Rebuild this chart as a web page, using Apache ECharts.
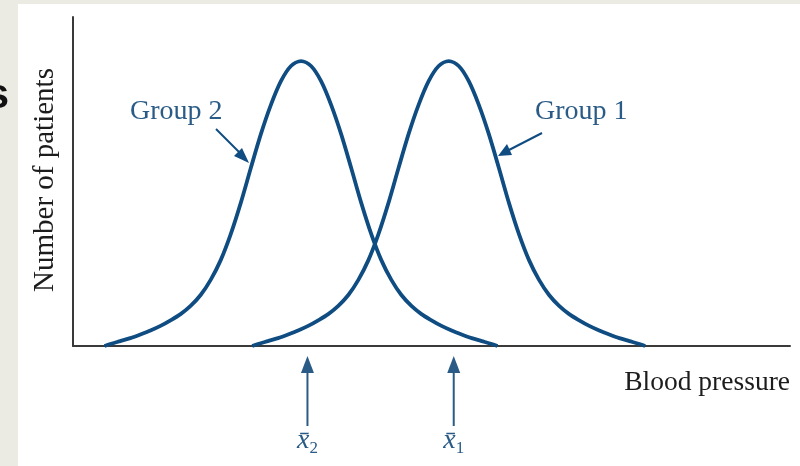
<!DOCTYPE html>
<html>
<head>
<meta charset="utf-8">
<script src="https://cdn.jsdelivr.net/npm/echarts@6/dist/echarts.min.js"></script>
<style>
  html, body { margin: 0; padding: 0; background: #ecebe3; }
  #paper { position: absolute; left: 18px; top: 4px; width: 782px; height: 462px; background: #fff; }
  #main { position: absolute; left: 0; top: 0; width: 800px; height: 466px; }
</style>
</head>
<body>
<div id="paper"></div>
<div id="main"></div>
<script>
// blood pressure (arbitrary units along the axis) and number of patients
const bpGroup2 = [4.4, 5.2, 6.6, 8.0, 9.4, 10.8, 12.2, 13.6, 15.0, 16.4, 17.8, 19.2, 20.6, 22.0,
  23.4, 24.8, 26.2, 27.6, 29.0, 30.4, 31.8, 33.2, 34.6, 36.0, 37.4, 38.8, 40.2, 41.6, 43.0, 44.4,
  45.8, 47.2, 48.6, 50.0, 51.4, 52.8, 54.2, 55.6, 57.0, 58.4, 59.2]
const patientsGroup2 = [0, 0.6, 1.5, 2.4, 3.5, 4.7, 6.1, 7.8, 9.7, 12.2, 15.5, 20.1, 26.1, 34.0,
  43.5, 54.1, 64.4, 73.3, 80.5, 85.1, 86.6, 85.1, 80.5, 73.3, 64.4, 54.1, 43.5, 34.0, 26.1, 20.1,
  15.5, 12.2, 9.7, 7.8, 6.1, 4.7, 3.5, 2.4, 1.5, 0.6, 0]
const bpGroup1 = [25.0, 25.8, 27.2, 28.6, 30.0, 31.4, 32.8, 34.2, 35.6, 37.0, 38.4, 39.8, 41.2, 42.6,
  44.0, 45.4, 46.8, 48.2, 49.6, 51.0, 52.4, 53.8, 55.2, 56.6, 58.0, 59.4, 60.8, 62.2, 63.6, 65.0,
  66.4, 67.8, 69.2, 70.6, 72.0, 73.4, 74.8, 76.2, 77.6, 79.0, 79.8]
const patientsGroup1 = [0, 0.6, 1.5, 2.4, 3.5, 4.7, 6.1, 7.8, 9.7, 12.2, 15.5, 20.1, 26.1, 34.0,
  43.5, 54.1, 64.4, 73.3, 80.5, 85.1, 86.6, 85.1, 80.5, 73.3, 64.4, 54.1, 43.5, 34.0, 26.1, 20.1,
  15.5, 12.2, 9.7, 7.8, 6.1, 4.7, 3.5, 2.4, 1.5, 0.6, 0]

const meanValues = [32.7, 53.1]
const meanSubs = ['2', '1']

const BLUE = '#0f4c81'
const TEXT_BLUE = '#2a5b86'
const SERIF = '"Liberation Serif", "DejaVu Serif", serif'

const chart = echarts.init(document.getElementById('main'))

const pairs = (xs, ys) => xs.map((x, i) => [x, ys[i]])

chart.setOption({
  animation: false,
  grid: { left: 73, right: 10, top: 17, bottom: 120 },
  xAxis: {
    type: 'value', min: 0, max: 100,
    axisLine: { show: true, lineStyle: { color: '#3a3a3a', width: 2 } },
    axisTick: { show: false }, axisLabel: { show: false }, splitLine: { show: false },
  },
  yAxis: {
    type: 'value', min: 0, max: 100,
    axisLine: { show: true, lineStyle: { color: '#3a3a3a', width: 2 } },
    axisTick: { show: false }, axisLabel: { show: false }, splitLine: { show: false },
  },
  series: [
    { name: 'Group 2', type: 'line', data: pairs(bpGroup2, patientsGroup2),
      smooth: 0.3, showSymbol: false,
      lineStyle: { color: BLUE, width: 3.8 } },
    { name: 'Group 1', type: 'line', data: pairs(bpGroup1, patientsGroup1),
      smooth: 0.3, showSymbol: false,
      lineStyle: { color: BLUE, width: 3.8 } },
  ],
})

// annotations: mean arrows below the axis, labels, axis titles
const graphics = []
meanValues.forEach((m, i) => {
  const [px, py] = chart.convertToPixel({ gridIndex: 0 }, [m, 0])
  graphics.push(
    { type: 'line', shape: { x1: px, y1: py + 24, x2: px, y2: py + 80 },
      style: { stroke: TEXT_BLUE, lineWidth: 2 } },
    { type: 'polygon', shape: { points: [[px, py + 10], [px - 6.5, py + 27], [px + 6.5, py + 27]] },
      style: { fill: TEXT_BLUE } },
    { type: 'text', x: px, y: py + 95,
      style: { text: '{x|x\u0304}{s|' + meanSubs[i] + '}', fill: TEXT_BLUE, align: 'center', verticalAlign: 'middle',
        rich: {
          x: { fontFamily: SERIF, fontStyle: 'italic', fontSize: 28, fill: TEXT_BLUE },
          s: { fontFamily: SERIF, fontSize: 17, fill: TEXT_BLUE, padding: [16, 0, 0, 0] },
        } } }
  )
})

graphics.push(
  { type: 'text', x: 130, y: 112,
    style: { text: 'Group 2', font: '28px ' + SERIF, fill: TEXT_BLUE, verticalAlign: 'middle' } },
  { type: 'line', shape: { x1: 216, y1: 129, x2: 242, y2: 155 }, style: { stroke: BLUE, lineWidth: 2 } },
  { type: 'polygon', shape: { points: [[249, 163], [234, 156], [242, 148]] }, style: { fill: BLUE } },
  { type: 'text', x: 535, y: 112,
    style: { text: 'Group 1', font: '28px ' + SERIF, fill: TEXT_BLUE, verticalAlign: 'middle' } },
  { type: 'line', shape: { x1: 542, y1: 133, x2: 507, y2: 151 }, style: { stroke: BLUE, lineWidth: 2 } },
  { type: 'polygon', shape: { points: [[498, 156], [507, 144], [512, 155]] }, style: { fill: BLUE } },
  { type: 'text', x: 790, y: 383,
    style: { text: 'Blood pressure', font: '27.5px ' + SERIF, fill: '#1c1c1c', align: 'right', verticalAlign: 'middle' } },
  { type: 'text', x: 45, y: 180, rotation: Math.PI / 2,
    style: { text: 'Number of patients', font: '29px ' + SERIF, fill: '#1c1c1c', align: 'center', verticalAlign: 'middle' } },
  { type: 'text', x: 9, y: 96,
    style: { text: 's', font: 'bold 42px "Liberation Sans", Arial, sans-serif', fill: '#111', align: 'right', verticalAlign: 'middle' } }
)

chart.setOption({ graphic: graphics })
</script>
</body>
</html>
